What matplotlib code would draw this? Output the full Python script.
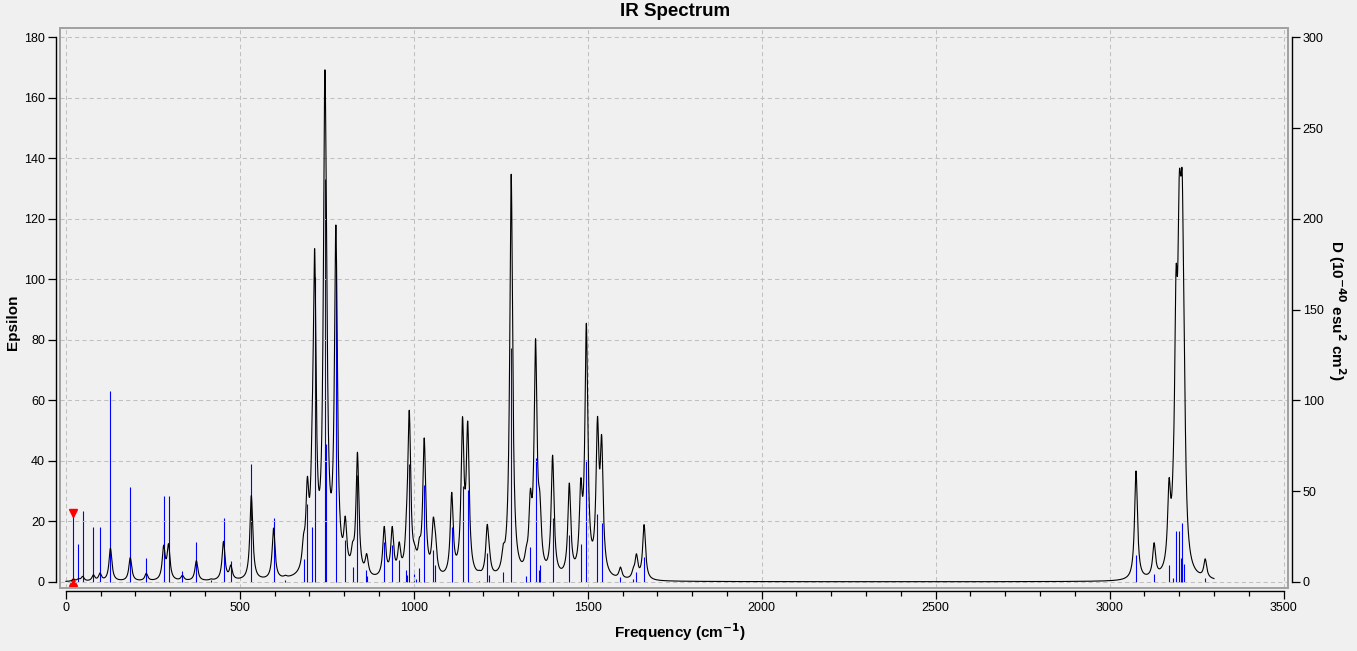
import numpy as np
import matplotlib.pyplot as plt
from matplotlib.patches import Rectangle
from matplotlib.ticker import MultipleLocator

# vibrational modes: frequency (cm-1) and dipole strength D (10^-40 esu^2 cm^2)
freqs = [21.8, 36, 48, 79, 98, 128, 185, 231, 281, 295, 335, 375, 417, 453, 474,
         533, 597, 631, 683, 694, 708, 715, 744, 748, 776, 803, 824, 838, 864, 866,
         915, 938, 958, 979, 981, 987, 1002, 1007, 1016, 1030, 1056, 1062, 1109,
         1140, 1155, 1188, 1211, 1217, 1257, 1280, 1323, 1335, 1350, 1361, 1363,
         1399, 1447, 1480, 1496, 1528, 1540, 1594, 1631, 1640, 1662,
         3076, 3128, 3171, 3183, 3191, 3200, 3204, 3209, 3215, 3275]
dipole = [38, 21, 39, 30, 30, 105, 52, 13, 47, 47, 6, 22, 1, 35, 11.5,
          65, 35, 1, 12.6, 43, 30, 168, 222, 76, 178, 23, 8, 59, 6.5, 3,
          22, 20.5, 12, 6.5, 3.6, 65, 4.3, 1.5, 7.6, 53.5, 17.7, 9.3, 30,
          52.6, 50.6, 0.5, 16, 3.6, 5.3, 129, 3.2, 19, 68, 6.5, 9.3,
          35, 25.7, 21, 67, 37.4, 32.3, 2.8, 1.5, 5.6, 13.5,
          14.5, 4.3, 9.5, 2.3, 28, 28, 13, 32.6, 9.7, 2.3]

selected = 0          # mode marked with the red triangles
hwhm = 5.0            # lorentzian half width (cm-1)
peak_scale = 8.07e-4  # epsilon per (cm-1 * D) at a band centre

x_ticks = list(range(0, 3501, 500))
eps_ticks = list(range(0, 181, 20))
d_ticks = list(range(0, 301, 50))


def spectrum(nu):
    eps = np.zeros_like(nu)
    for f, d in zip(freqs, dipole):
        eps += peak_scale * f * d / (1 + ((nu - f) / hwhm) ** 2)
    return eps


def main():
    W, H = 1357, 651
    fig = plt.figure(figsize=(W / 100, H / 100), dpi=100, facecolor='#f0f0f0')
    plt.rcParams['font.family'] = ['Liberation Sans', 'DejaVu Sans']

    ax = fig.add_axes([60 / W, (H - 588) / H, 1227.7 / W, 560 / H])
    ax2 = ax.twinx()
    ax.set_zorder(2)
    ax2.set_zorder(1)
    ax.patch.set_visible(False)
    ax2.patch.set_facecolor('#fffff5')

    # sticks on the D axis
    ax2.vlines(freqs, 0, dipole, color='#0000ff', lw=0.8)
    ax2.plot([freqs[selected]], [dipole[selected]], marker='v', color='red', ms=6, ls='none')
    ax2.plot([freqs[selected]], [0], marker='^', color='red', ms=6, ls='none')

    nu = np.arange(0, 3300.5, 0.5)
    ax.plot(nu, spectrum(nu), color='black', lw=0.8)

    ax.set_xlim(-17, 3512)
    ax.set_ylim(-2.05, 183.07)
    ax2.set_ylim(-2.05 * 300 / 180, 183.07 * 300 / 180)

    ax.set_xticks(x_ticks)
    ax.xaxis.set_minor_locator(MultipleLocator(100))
    ax.set_yticks(eps_ticks)
    ax2.set_yticks(d_ticks)

    ax.grid(True, color='#c0c0c0', lw=0.75, dashes=(4, 3))

    for s in ['top', 'right']:
        ax.spines[s].set_visible(False)
    for s in ['top', 'left', 'bottom']:
        ax2.spines[s].set_visible(False)
    ax.spines['bottom'].set_position(('outward', 2.2))
    ax.spines['bottom'].set_bounds(0, 3500)
    ax.spines['left'].set_position(('outward', 3))
    ax.spines['left'].set_bounds(0, 180)
    ax2.spines['right'].set_position(('outward', 3))
    ax2.spines['right'].set_bounds(0, 300)
    for sp in [ax.spines['bottom'], ax.spines['left'], ax2.spines['right']]:
        sp.set_linewidth(1.0)

    ax.tick_params(which='major', direction='out', length=5.8, width=0.9, labelsize=9, pad=2)
    ax.tick_params(axis='x', which='minor', direction='out', length=3.6, width=0.9)
    ax2.tick_params(direction='out', length=5.8, width=0.9, labelsize=9, pad=2)

    ax.add_patch(Rectangle((0, 0), 1, 1, transform=ax.transAxes, fill=False,
                           ec='#a0a0a0', lw=1.4, clip_on=False, zorder=5))

    fig.text(675 / W, 1 - 12 / H, 'IR Spectrum', ha='center', va='center',
             fontsize=13.5, fontweight='bold')
    fig.text(680 / W, 1 - 632 / H, r'Frequency (cm$^{\mathbf{-1}}$)', ha='center', va='center',
             fontsize=11, fontweight='bold')
    fig.text(13 / W, 1 - 322 / H, 'Epsilon', ha='center', va='center', rotation=90,
             fontsize=11, fontweight='bold')
    fig.text(1337 / W, 1 - 310 / H, r'D (10$^{\mathbf{-40}}$ esu$^{\mathbf{2}}$ cm$^{\mathbf{2}}$)',
             ha='center', va='center', rotation=-90, fontsize=11, fontweight='bold')

    fig.savefig('out.png', dpi=100, facecolor=fig.get_facecolor())


if __name__ == "__main__":
    main()
